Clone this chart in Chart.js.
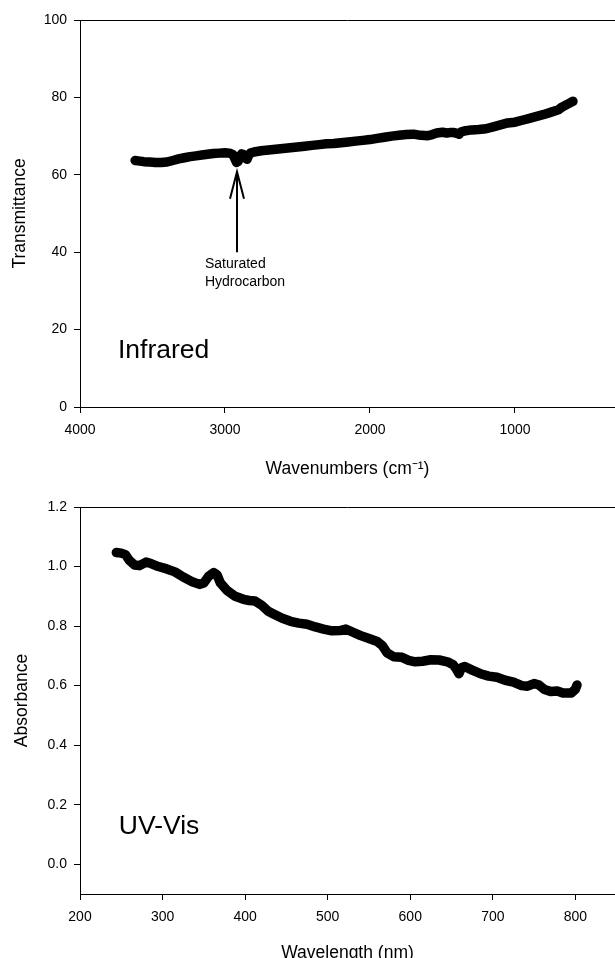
<!DOCTYPE html>
<html>
<head>
<meta charset="utf-8">
<script src="https://cdn.jsdelivr.net/npm/chart.js@4.4.1/dist/chart.umd.min.js"></script>
<style>
  html, body { margin: 0; padding: 0; background: #fff; overflow: hidden; }
  #wrap { position: relative; width: 615px; height: 958px; overflow: hidden; }
  #ir { position: absolute; left: 0; top: 0; }
  #uv { position: absolute; left: 0; top: 480px; }
</style>
</head>
<body>
<div id="wrap">
  <canvas id="ir" width="615" height="480"></canvas>
  <canvas id="uv" width="615" height="500"></canvas>
</div>
<script>
// Infrared spectrum (wavenumber in cm-1, transmittance)
const irWavenumbers = [
  3620, 3600, 3560, 3520, 3480, 3440, 3400, 3360, 3320, 3280, 3240, 3200, 3160, 3120, 3080, 3040,
  3000, 2970, 2945, 2930, 2920, 2910, 2900, 2885, 2870, 2855, 2848, 2840, 2825, 2800, 2750, 2700,
  2650, 2600, 2550, 2500, 2450, 2400, 2350, 2300, 2250, 2200, 2150, 2100, 2050, 2000, 1950, 1900,
  1850, 1800, 1750, 1700, 1650, 1600, 1570, 1540, 1500, 1470, 1450, 1420, 1400, 1385, 1370, 1340,
  1300, 1250, 1200, 1150, 1100, 1050, 1000, 950, 900, 850, 800, 750, 700, 680, 650, 620, 600
]
const irTransmittance = [
  63.7, 63.6, 63.4, 63.3, 63.2, 63.2, 63.3, 63.7, 64.1, 64.4, 64.7, 64.9, 65.1, 65.3, 65.5, 65.6,
  65.7, 65.6, 65.2, 64.0, 63.2, 63.4, 64.6, 65.4, 65.2, 64.2, 64.0, 64.8, 65.6, 65.9, 66.2, 66.4,
  66.6, 66.8, 67.0, 67.2, 67.4, 67.6, 67.8, 68.0, 68.1, 68.3, 68.5, 68.7, 68.9, 69.1, 69.4, 69.7,
  70.0, 70.2, 70.4, 70.5, 70.2, 70.1, 70.4, 70.8, 71.0, 70.8, 70.9, 70.9, 70.7, 70.5, 71.1, 71.4,
  71.6, 71.7, 71.9, 72.4, 72.9, 73.4, 73.6, 74.1, 74.6, 75.1, 75.6, 76.2, 76.8, 77.4, 78.0, 78.6, 79.0
]
const irTicksX = [4000, 3000, 2000, 1000]
const irTicksY = [0, 20, 40, 60, 80, 100]

// UV-Vis spectrum (wavelength in nm, absorbance)
const uvWavelengths = [
  244, 250, 255, 260, 266, 272, 280, 286, 295, 305, 315, 325, 335, 345, 350, 356, 362, 366, 370,
  378, 388, 398, 405, 412, 420, 428, 435, 445, 455, 465, 475, 485, 495, 505, 515, 522, 530, 540,
  550, 560, 566, 572, 580, 590, 598, 606, 615, 625, 635, 645, 652, 656, 659, 662, 666, 675, 685,
  695, 705, 715, 725, 735, 742, 750, 756, 762, 770, 778, 785, 795, 800, 802
]
const uvAbsorbance = [
  1.047, 1.045, 1.040, 1.020, 1.005, 1.003, 1.015, 1.010, 1.000, 0.992, 0.982, 0.965, 0.950, 0.940, 0.945, 0.968, 0.980, 0.972, 0.945,
  0.920, 0.900, 0.890, 0.886, 0.884, 0.870, 0.850, 0.840, 0.826, 0.816, 0.810, 0.806, 0.797, 0.790, 0.784, 0.785, 0.790, 0.780, 0.768,
  0.758, 0.748, 0.735, 0.710, 0.697, 0.695, 0.685, 0.680, 0.682, 0.687, 0.686, 0.680, 0.670, 0.655, 0.640, 0.660, 0.664, 0.652, 0.640,
  0.632, 0.628, 0.618, 0.612, 0.600, 0.598, 0.607, 0.602, 0.588, 0.580, 0.582, 0.575, 0.575, 0.588, 0.602
]
const uvTicksX = [200, 300, 400, 500, 600, 700, 800]
const uvTicksY = [0, 0.2, 0.4, 0.6, 0.8, 1.0, 1.2]

const FONT = "'Liberation Sans', Arial, sans-serif"
const INK = '#000'

// top edge of the frame (the original box is cropped on the right)
const frameTop = {
  id: 'frameTop',
  afterDraw(chart) {
    const { ctx, chartArea } = chart
    ctx.save()
    ctx.strokeStyle = INK
    ctx.lineWidth = 1
    ctx.beginPath()
    ctx.moveTo(chartArea.left, Math.round(chartArea.top) + 0.5)
    ctx.lineTo(chartArea.right, Math.round(chartArea.top) + 0.5)
    ctx.stroke()
    ctx.restore()
  }
}

// text labels and the arrow, positioned in data coordinates
const notes = {
  id: 'notes',
  afterDatasetsDraw(chart, args, opts) {
    const { ctx } = chart
    const x = chart.scales.x
    const y = chart.scales.y
    ctx.save()
    ctx.fillStyle = INK
    ctx.textAlign = 'left'
    ctx.textBaseline = 'middle'
    ;(opts.texts || []).forEach(t => {
      ctx.font = `${t.size}px ${FONT}`
      ctx.fillText(t.text, x.getPixelForValue(t.x), y.getPixelForValue(t.y))
    })
    ;(opts.arrows || []).forEach(a => {
      const px = Math.round(x.getPixelForValue(a.x))
      const y0 = y.getPixelForValue(a.from)
      const y1 = y.getPixelForValue(a.to)
      ctx.strokeStyle = INK
      ctx.lineWidth = 2
      ctx.beginPath()
      ctx.moveTo(px, y0)
      ctx.lineTo(px, y1)
      ctx.stroke()
      ctx.beginPath()
      ctx.moveTo(px - 7, y1 + 27)
      ctx.lineTo(px, y1)
      ctx.lineTo(px + 7, y1 + 27)
      ctx.stroke()
    })
    ctx.restore()
  }
}

function makeSpectrum(canvas, cfg) {
  const points = cfg.xs.map((v, i) => ({ x: v, y: cfg.ys[i] }))
  const axisBits = {
    grid: { drawOnChartArea: false, drawTicks: true, tickLength: 6, color: INK, lineWidth: 1 },
    border: { display: true, color: INK, width: 1 }
  }
  return new Chart(canvas, {
    type: 'line',
    data: {
      datasets: [{
        data: points,
        borderColor: INK,
        borderWidth: 9.5,
        borderJoinStyle: 'round',
        borderCapStyle: 'round',
        pointRadius: 0,
        tension: 0,
        fill: false
      }]
    },
    options: {
      responsive: false,
      animation: false,
      layout: { padding: { top: cfg.padTop, right: 0, bottom: 0, left: 0 } },
      plugins: {
        legend: { display: false },
        tooltip: { enabled: false },
        notes: cfg.notes
      },
      scales: {
        x: {
          type: 'linear',
          min: cfg.xMin,
          max: cfg.xMax,
          reverse: cfg.reverse,
          ...axisBits,
          afterBuildTicks: s => { s.ticks = cfg.xTicks.map(v => ({ value: v })) },
          afterFit: s => { s.height = cfg.xHeight },
          ticks: { color: INK, font: { family: FONT, size: 14 }, padding: 9, maxRotation: 0, callback: v => String(v) },
          title: {
            display: true,
            text: cfg.xTitle,
            color: INK,
            font: { family: FONT, size: 17.5 },
            padding: { top: 0, bottom: cfg.xTitlePad }
          }
        },
        y: {
          type: 'linear',
          min: cfg.yMin,
          max: cfg.yMax,
          ...axisBits,
          afterBuildTicks: s => { s.ticks = cfg.yTicks.map(v => ({ value: v })) },
          afterFit: s => { s.width = 80 },
          ticks: { color: INK, font: { family: FONT, size: 14 }, padding: 7, callback: cfg.yFormat },
          title: {
            display: true,
            text: cfg.yTitle,
            color: INK,
            font: { family: FONT, size: 17.5 },
            padding: { top: cfg.yTitlePad, bottom: 0 }
          }
        }
      }
    },
    plugins: [frameTop, notes]
  })
}

makeSpectrum(document.getElementById('ir'), {
  xs: irWavenumbers,
  ys: irTransmittance,
  xMin: 310, xMax: 4000, reverse: true,
  yMin: 0, yMax: 100,
  xTicks: irTicksX, yTicks: irTicksY,
  yFormat: v => String(v),
  xTitle: 'Wavenumbers (cm\u207B\u00B9)',
  yTitle: 'Transmittance',
  padTop: 20, xHeight: 73, xTitlePad: 0, yTitlePad: 10,
  notes: {
    texts: [
      { text: 'Infrared', x: 3738, y: 14.5, size: 26.5 },
      { text: 'Saturated', x: 3138, y: 37, size: 14 },
      { text: 'Hydrocarbon', x: 3138, y: 32.2, size: 14 }
    ],
    arrows: [{ x: 2917, from: 40, to: 60.8 }]
  }
})

makeSpectrum(document.getElementById('uv'), {
  xs: uvWavelengths,
  ys: uvAbsorbance,
  xMin: 200, xMax: 848, reverse: false,
  yMin: -0.1, yMax: 1.2,
  xTicks: uvTicksX, yTicks: uvTicksY,
  yFormat: v => v.toFixed(1),
  xTitle: 'Wavelength (nm)',
  yTitle: 'Absorbance',
  padTop: 27, xHeight: 86, xTitlePad: 16, yTitlePad: 12,
  notes: {
    texts: [{ text: 'UV-Vis', x: 247, y: 0.125, size: 26.5 }]
  }
})
</script>
</body>
</html>
